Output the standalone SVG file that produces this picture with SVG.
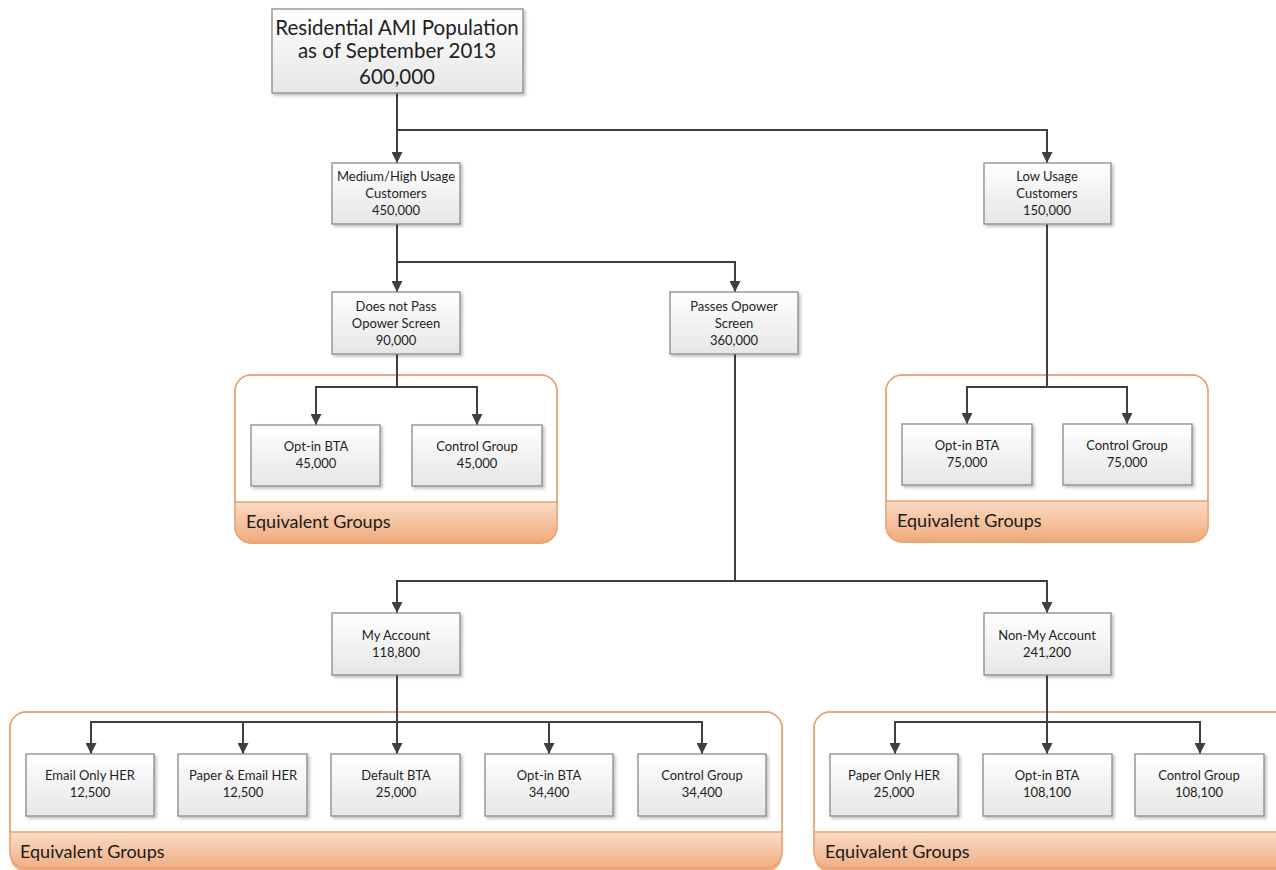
<svg xmlns="http://www.w3.org/2000/svg" width="1276" height="870" viewBox="0 0 1276 870">
<defs>
<linearGradient id="boxg" x1="0" y1="0" x2="0" y2="1"><stop offset="0" stop-color="#ffffff"/><stop offset="1" stop-color="#e6e6e6"/></linearGradient>
<linearGradient id="hdrg" x1="0" y1="0" x2="0" y2="1"><stop offset="0" stop-color="#fadbc6"/><stop offset="1" stop-color="#f0aa7c"/></linearGradient>
<filter id="sh" x="-10%" y="-10%" width="130%" height="130%"><feDropShadow dx="2" dy="2" stdDeviation="1.5" flood-color="#000" flood-opacity="0.25"/></filter>
<marker id="ar" viewBox="0 0 10 10" refX="10" refY="5" markerWidth="11" markerHeight="11" markerUnits="userSpaceOnUse" orient="auto"><path d="M0,0 L10,5 L0,10 z" fill="#404040"/></marker>
<clipPath id="cl1"><rect x="10" y="712" width="772" height="160" rx="16"/></clipPath>
<clipPath id="cl2"><rect x="814" y="712" width="480" height="160" rx="16"/></clipPath>
</defs>
<style>
.box{fill:url(#boxg);stroke:#8a8a8a;stroke-width:1.3;filter:url(#sh)}
.t{font-family:Lato,"Open Sans","Liberation Sans",sans-serif;font-size:13px;fill:#1f1f1f;text-anchor:middle}
.big{font-size:20.5px}
.grp{fill:#ffffff;stroke:#e8a274;stroke-width:1.3}
.hdr{fill:url(#hdrg)}
.hl{stroke:#e8a274;stroke-width:1.3;fill:none}
.gt{font-family:Lato,"Open Sans","Liberation Sans",sans-serif;font-size:18px;fill:#1a1a1a}
.c{stroke:#404040;stroke-width:2;fill:none}
</style>

<g id="groups">
<g id="grp-notpass">
<rect class="grp" x="235" y="375" width="322" height="168" rx="16"/>
<path class="hdr" d="M235.6,502 H556.4 V527 a15.4,15.4 0 0 1 -15.4,15.4 H251 a15.4,15.4 0 0 1 -15.4,-15.4 Z"/>
<line class="hl" x1="235" y1="502" x2="557" y2="502"/>
<rect x="235" y="375" width="322" height="168" rx="16" fill="none" stroke="#e8a274" stroke-width="1.3"/>
<text class="gt" x="246" y="528">Equivalent Groups</text>
</g>
<g id="grp-low">
<rect class="grp" x="886" y="375" width="322" height="167" rx="16"/>
<path class="hdr" d="M886.6,501 H1207.4 V526 a15.4,15.4 0 0 1 -15.4,15.4 H902 a15.4,15.4 0 0 1 -15.4,-15.4 Z"/>
<line class="hl" x1="886" y1="501" x2="1208" y2="501"/>
<rect x="886" y="375" width="322" height="167" rx="16" fill="none" stroke="#e8a274" stroke-width="1.3"/>
<text class="gt" x="897" y="527">Equivalent Groups</text>
</g>
<g id="grp-myacct">
<rect class="grp" x="10" y="712" width="772" height="156" rx="16"/>
<rect class="hdr" x="10.6" y="832" width="770.8" height="40" clip-path="url(#cl1)"/>
<line class="hl" x1="10" y1="832" x2="782" y2="832"/>
<rect x="10" y="712" width="772" height="156" rx="16" fill="none" stroke="#e8a274" stroke-width="1.3"/>
<text class="gt" x="20" y="858">Equivalent Groups</text>
</g>
<g id="grp-nonmy">
<rect class="grp" x="814" y="712" width="480" height="156" rx="16"/>
<rect class="hdr" x="814.6" y="832" width="470" height="40" clip-path="url(#cl2)"/>
<line class="hl" x1="814" y1="832" x2="1276" y2="832"/>
<rect x="814" y="712" width="480" height="156" rx="16" fill="none" stroke="#e8a274" stroke-width="1.3"/>
<text class="gt" x="825" y="858">Equivalent Groups</text>
</g>
</g>

<g id="connectors">
<path class="c" d="M397,93 V163" marker-end="url(#ar)"/>
<path class="c" d="M397,130 H1047 V163" marker-end="url(#ar)"/>
<path class="c" d="M397,224 V292" marker-end="url(#ar)"/>
<path class="c" d="M397,262 H735 V292" marker-end="url(#ar)"/>
<path class="c" d="M397,354 V387 H316 V425" marker-end="url(#ar)"/>
<path class="c" d="M397,387 H477 V425" marker-end="url(#ar)"/>
<path class="c" d="M1047,224 V387 H967 V424" marker-end="url(#ar)"/>
<path class="c" d="M1047,387 H1127 V424" marker-end="url(#ar)"/>
<path class="c" d="M735,354 V581 H397 V613" marker-end="url(#ar)"/>
<path class="c" d="M735,581 H1047 V613" marker-end="url(#ar)"/>
<path class="c" d="M397,675 V754" marker-end="url(#ar)"/>
<path class="c" d="M397,722 H91 V754" marker-end="url(#ar)"/>
<path class="c" d="M243,722 V754" marker-end="url(#ar)"/>
<path class="c" d="M397,722 H702 V754" marker-end="url(#ar)"/>
<path class="c" d="M549,722 V754" marker-end="url(#ar)"/>
<path class="c" d="M1047,675 V754" marker-end="url(#ar)"/>
<path class="c" d="M1047,722 H895 V754" marker-end="url(#ar)"/>
<path class="c" d="M1047,722 H1200 V754" marker-end="url(#ar)"/>
</g>

<g id="n-top"><rect class="box" x="272" y="9" width="251" height="84"/>
<text class="t big" x="397" y="35">Residential AMI Population</text>
<text class="t big" x="397" y="58">as of September 2013</text>
<text class="t big" x="397" y="84">600,000</text></g>

<g id="n-medhigh"><rect class="box" x="332" y="163" width="128" height="61"/>
<text class="t" x="396" y="181">Medium/High Usage</text>
<text class="t" x="396" y="198">Customers</text>
<text class="t" x="396" y="215">450,000</text></g>

<g id="n-low"><rect class="box" x="984" y="163" width="127" height="61"/>
<text class="t" x="1047" y="181">Low Usage</text>
<text class="t" x="1047" y="198">Customers</text>
<text class="t" x="1047" y="215">150,000</text></g>

<g id="n-notpass"><rect class="box" x="332" y="292" width="128" height="62"/>
<text class="t" x="396" y="311">Does not Pass</text>
<text class="t" x="396" y="328">Opower Screen</text>
<text class="t" x="396" y="345">90,000</text></g>

<g id="n-passes"><rect class="box" x="670" y="292" width="128" height="62"/>
<text class="t" x="734" y="311">Passes Opower</text>
<text class="t" x="734" y="328">Screen</text>
<text class="t" x="734" y="345">360,000</text></g>

<g id="n-np-optin"><rect class="box" x="251" y="425" width="129" height="61"/>
<text class="t" x="316" y="451">Opt-in BTA</text>
<text class="t" x="316" y="468">45,000</text></g>

<g id="n-np-control"><rect class="box" x="412" y="425" width="130" height="61"/>
<text class="t" x="477" y="451">Control Group</text>
<text class="t" x="477" y="468">45,000</text></g>

<g id="n-low-optin"><rect class="box" x="902" y="424" width="130" height="61"/>
<text class="t" x="967" y="450">Opt-in BTA</text>
<text class="t" x="967" y="467">75,000</text></g>

<g id="n-low-control"><rect class="box" x="1063" y="424" width="129" height="61"/>
<text class="t" x="1127" y="450">Control Group</text>
<text class="t" x="1127" y="467">75,000</text></g>

<g id="n-myacct"><rect class="box" x="332" y="613" width="128" height="62"/>
<text class="t" x="396" y="640">My Account</text>
<text class="t" x="396" y="657">118,800</text></g>

<g id="n-nonmy"><rect class="box" x="984" y="613" width="127" height="62"/>
<text class="t" x="1047" y="640">Non-My Account</text>
<text class="t" x="1047" y="657">241,200</text></g>

<g id="n-email"><rect class="box" x="26" y="754" width="128" height="62"/>
<text class="t" x="90" y="780">Email Only HER</text>
<text class="t" x="90" y="797">12,500</text></g>

<g id="n-paperemail"><rect class="box" x="178" y="754" width="129" height="62"/>
<text class="t" x="243" y="780">Paper &amp; Email HER</text>
<text class="t" x="243" y="797">12,500</text></g>

<g id="n-default"><rect class="box" x="331" y="754" width="129" height="62"/>
<text class="t" x="396" y="780">Default BTA</text>
<text class="t" x="396" y="797">25,000</text></g>

<g id="n-my-optin"><rect class="box" x="485" y="754" width="128" height="62"/>
<text class="t" x="549" y="780">Opt-in BTA</text>
<text class="t" x="549" y="797">34,400</text></g>

<g id="n-my-control"><rect class="box" x="638" y="754" width="128" height="62"/>
<text class="t" x="702" y="780">Control Group</text>
<text class="t" x="702" y="797">34,400</text></g>

<g id="n-paperonly"><rect class="box" x="830" y="754" width="128" height="62"/>
<text class="t" x="894" y="780">Paper Only HER</text>
<text class="t" x="894" y="797">25,000</text></g>

<g id="n-nm-optin"><rect class="box" x="983" y="754" width="129" height="62"/>
<text class="t" x="1047" y="780">Opt-in BTA</text>
<text class="t" x="1047" y="797">108,100</text></g>

<g id="n-nm-control"><rect class="box" x="1135" y="754" width="129" height="62"/>
<text class="t" x="1199" y="780">Control Group</text>
<text class="t" x="1199" y="797">108,100</text></g>
</svg>
